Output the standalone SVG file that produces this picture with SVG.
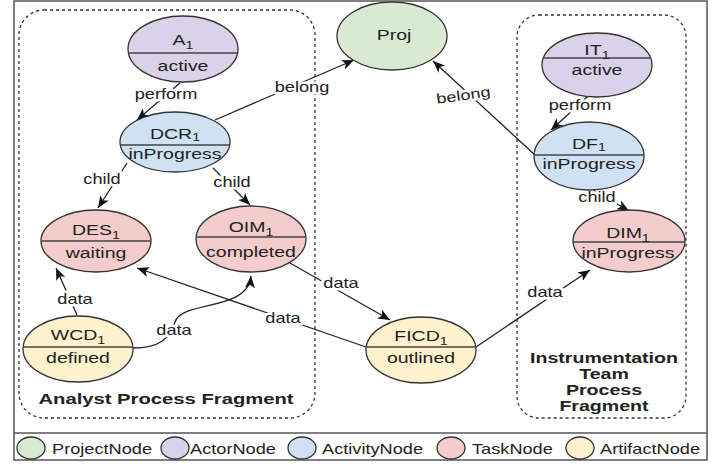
<svg xmlns="http://www.w3.org/2000/svg" width="723" height="464" viewBox="0 0 723 464">
<style>
.frame{fill:#fff;stroke:#555;stroke-width:1.5}
.frag{fill:none;stroke:#333;stroke-width:1.3;stroke-dasharray:3,3}
.ft{font-family:"Liberation Sans",Arial,sans-serif;font-size:15px;font-weight:bold;fill:#222;text-anchor:middle}
.ft2{font-size:14px}
.node ellipse,.lg ellipse{stroke:#333;stroke-width:1.3}
.dv{stroke:#444;stroke-width:1.3}
.nt{font-family:"Liberation Sans",Arial,sans-serif;font-size:15px;fill:#222;text-anchor:middle}
.sub{font-size:11px}
.edge{fill:none;stroke:#222;stroke-width:1.3;marker-end:url(#arr)}
.el{font-family:"Liberation Sans",Arial,sans-serif;font-size:14px;fill:#222;text-anchor:middle;stroke:#fff;stroke-width:5;stroke-linejoin:round;paint-order:stroke}
.lt{font-family:"Liberation Sans",Arial,sans-serif;font-size:14px;fill:#222}
.pj{fill:#d9ead3}.ac{fill:#d9d2e9}.av{fill:#cfe2f3}.tk{fill:#f4cccc}.af{fill:#fff2cc}
</style>
<defs>
<marker id="arr" markerUnits="userSpaceOnUse" markerWidth="12" markerHeight="10" refX="12" refY="5" orient="auto">
<path d="M0,0 L12,5 L0,10 L3,5 z" fill="#111"/>
</marker>
</defs>

<rect class="frame" x="14" y="1" width="693" height="459"/>
<line x1="14" y1="433" x2="707" y2="433" stroke="#555" stroke-width="1.5"/>

<g id="fragment-analyst">
<rect class="frag" x="19" y="10" width="296" height="408" rx="25"/>
<text class="ft" transform="translate(166,404) scale(1.35,1)">Analyst Process Fragment</text>
</g>
<g id="fragment-instrumentation">
<rect class="frag" x="517" y="15" width="169" height="403" rx="22"/>
<text class="ft ft2" transform="translate(604,363) scale(1.4,1)">Instrumentation</text>
<text class="ft ft2" transform="translate(604,379) scale(1.4,1)">Team</text>
<text class="ft ft2" transform="translate(604,395) scale(1.4,1)">Process</text>
<text class="ft ft2" transform="translate(604,411) scale(1.4,1)">Fragment</text>
</g>

<g id="connectors">
<path class="edge" d="M180,83 L137,120"/>
<path class="edge" d="M215,120 L354,60"/>
<path class="edge" d="M535,155 L433,61"/>
<path class="edge" d="M597,88 L551,130"/>
<path class="edge" d="M127,163 L98,208"/>
<path class="edge" d="M213,168 L250,205"/>
<path class="edge" d="M590,188 L629,211"/>
<path class="edge" d="M77,315 L56,268"/>
<path class="edge" d="M133,348 C160,348 170,338 175,322 C182,300 248,312 251,276"/>
<path class="edge" d="M366,347 L137,268"/>
<path class="edge" d="M290,263 L390,320"/>
<path class="edge" d="M476,347 L590,270"/>
<text class="el" transform="translate(166,99) scale(1.3,1)">perform</text>
<text class="el" transform="translate(302,92) scale(1.3,1)">belong</text>
<text class="el" transform="translate(464,100) rotate(-8) scale(1.3,1)">belong</text>
<text class="el" transform="translate(580,110) scale(1.3,1)">perform</text>
<text class="el" transform="translate(102,184) scale(1.3,1)">child</text>
<text class="el" transform="translate(232,187) scale(1.3,1)">child</text>
<text class="el" transform="translate(597,202) scale(1.3,1)">child</text>
<text class="el" transform="translate(75,304) scale(1.3,1)">data</text>
<text class="el" transform="translate(174,335) scale(1.3,1)">data</text>
<text class="el" transform="translate(283,323) scale(1.3,1)">data</text>
<text class="el" transform="translate(341,288) scale(1.3,1)">data</text>
<text class="el" transform="translate(545,297) scale(1.3,1)">data</text>
</g>

<g id="Proj" class="node">
<ellipse class="pj" cx="392" cy="36" rx="55" ry="34"/>
<text class="nt" transform="translate(394,40) scale(1.3,1)">Proj</text>
</g>
<g id="A1" class="node">
<ellipse class="ac" cx="183" cy="49" rx="55" ry="33"/>
<line class="dv" x1="128.4" y1="53" x2="237.6" y2="53"/>
<text class="nt" transform="translate(183,45) scale(1.3,1)">A<tspan class="sub" dy="4">1</tspan></text>
<text class="nt" transform="translate(183,71) scale(1.3,1)">active</text>
</g>
<g id="DCR1" class="node">
<ellipse class="av" cx="175" cy="142" rx="55" ry="30"/>
<line class="dv" x1="120.3" y1="145" x2="229.7" y2="145"/>
<text class="nt" transform="translate(175,139) scale(1.3,1)">DCR<tspan class="sub" dy="2">1</tspan></text>
<text class="nt" transform="translate(175,159) scale(1.3,1)">inProgress</text>
</g>
<g id="DES1" class="node">
<ellipse class="tk" cx="96" cy="241" rx="55" ry="31"/>
<line class="dv" x1="41" y1="241" x2="151" y2="241"/>
<text class="nt" transform="translate(96,235) scale(1.3,1)">DES<tspan class="sub" dy="4">1</tspan></text>
<text class="nt" transform="translate(96,258) scale(1.3,1)">waiting</text>
</g>
<g id="OIM1" class="node">
<ellipse class="tk" cx="251" cy="239" rx="55" ry="33"/>
<line class="dv" x1="196.1" y1="237" x2="305.9" y2="237"/>
<text class="nt" transform="translate(251,232) scale(1.3,1)">OIM<tspan class="sub" dy="4">1</tspan></text>
<text class="nt" transform="translate(251,257) scale(1.3,1)">completed</text>
</g>
<g id="WCD1" class="node">
<ellipse class="af" cx="78" cy="349" rx="55" ry="33"/>
<line class="dv" x1="23.1" y1="347" x2="132.9" y2="347"/>
<text class="nt" transform="translate(78,340) scale(1.3,1)">WCD<tspan class="sub" dy="4">1</tspan></text>
<text class="nt" transform="translate(78,363) scale(1.3,1)">defined</text>
</g>
<g id="FICD1" class="node">
<ellipse class="af" cx="421" cy="350" rx="55" ry="33"/>
<line class="dv" x1="366.2" y1="347" x2="475.8" y2="347"/>
<text class="nt" transform="translate(421,341) scale(1.3,1)">FICD<tspan class="sub" dy="4">1</tspan></text>
<text class="nt" transform="translate(421,363) scale(1.3,1)">outlined</text>
</g>
<g id="IT1" class="node">
<ellipse class="ac" cx="597" cy="65" rx="55" ry="32"/>
<line class="dv" x1="543.3" y1="58" x2="650.7" y2="58"/>
<text class="nt" transform="translate(597,55) scale(1.3,1)">IT<tspan class="sub" dy="4">1</tspan></text>
<text class="nt" transform="translate(597,75) scale(1.3,1)">active</text>
</g>
<g id="DF1" class="node">
<ellipse class="av" cx="589" cy="156" rx="55" ry="34"/>
<line class="dv" x1="534" y1="155" x2="644" y2="155"/>
<text class="nt" transform="translate(589,149) scale(1.3,1)">DF<tspan class="sub" dy="2">1</tspan></text>
<text class="nt" transform="translate(589,169) scale(1.3,1)">inProgress</text>
</g>
<g id="DIM1" class="node">
<ellipse class="tk" cx="629" cy="241" rx="56" ry="31"/>
<line class="dv" x1="573" y1="242" x2="685" y2="242"/>
<text class="nt" transform="translate(628,238) scale(1.3,1)">DIM<tspan class="sub" dy="4">1</tspan></text>
<text class="nt" transform="translate(628,258) scale(1.3,1)">inProgress</text>
</g>

<g id="legend" class="lg">
<ellipse class="pj" cx="31" cy="448" rx="14" ry="11"/>
<text class="lt" transform="translate(52,454) scale(1.3,1)">ProjectNode</text>
<ellipse class="ac" cx="175" cy="448" rx="14" ry="11"/>
<text class="lt" transform="translate(190,454) scale(1.3,1)">ActorNode</text>
<ellipse class="av" cx="302" cy="448" rx="14" ry="11"/>
<text class="lt" transform="translate(322,454) scale(1.3,1)">ActivityNode</text>
<ellipse class="tk" cx="451" cy="448" rx="14" ry="11"/>
<text class="lt" transform="translate(472,454) scale(1.3,1)">TaskNode</text>
<ellipse class="af" cx="580" cy="448" rx="14" ry="11"/>
<text class="lt" transform="translate(600,454) scale(1.3,1)">ArtifactNode</text>
</g>
</svg>
